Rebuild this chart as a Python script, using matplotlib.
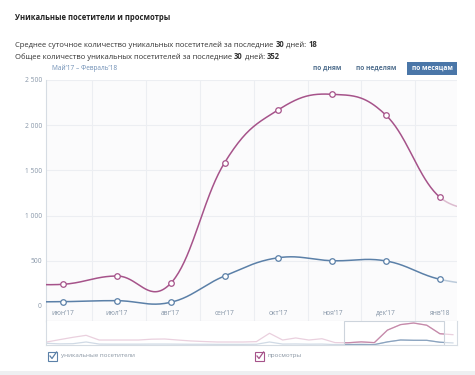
import matplotlib

matplotlib.use("Agg")

import matplotlib.pyplot as plt
import numpy as np
from matplotlib.patches import Rectangle

plt.rcParams["font.family"] = ["Open Sans", "DejaVu Sans"]

W, H = 475, 375

# monthly points, May'17 .. Feb'18 (first and last are clipped by the view)
month_labels = ["июн’17", "июл’17", "авг’17", "сен’17", "окт’17", "ноя’17", "дек’17", "янв’18"]
visitors = [45, 48, 59, 41, 332, 534, 501, 498, 295, 220]
views = [255, 240, 332, 251, 1585, 2171, 2342, 2109, 1202, 1100]

# older months shown only in the navigator (Jul'15 .. Apr'17)
nav_views_old = [320, 575, 820, 1030, 530, 530, 530, 530, 620, 640, 530, 430,
                 370, 320, 320, 320, 360, 1250, 530, 750, 530, 670]
nav_visitors_old = [180, 120, 140, 320, 100, 90, 90, 90, 100, 100, 90, 80,
                    80, 70, 70, 70, 80, 320, 100, 110, 90, 100]

y_ticks = [0, 500, 1000, 1500, 2000, 2500]

BLUE = "#5b80a8"
PURPLE = "#a6538a"
BLUE_FADED = "#bccbdb"
PURPLE_FADED = "#dcbccf"


def px_axes(fig, left, top, right, bottom):
    return fig.add_axes([left / W, 1 - bottom / H, (right - left) / W, (bottom - top) / H])


def spline(xs, ys, steps=40):
    # highcharts-like spline: control points at 0.4 of the neighbour distance
    xs = np.asarray(xs, float)
    ys = np.asarray(ys, float)
    n = len(xs)
    lc = [(xs[i], ys[i]) for i in range(n)]
    rc = [(xs[i], ys[i]) for i in range(n)]
    for i in range(1, n - 1):
        lx = (1.5 * xs[i] + xs[i - 1]) / 2.5
        ly = (1.5 * ys[i] + ys[i - 1]) / 2.5
        rx = (1.5 * xs[i] + xs[i + 1]) / 2.5
        ry = (1.5 * ys[i] + ys[i + 1]) / 2.5
        corr = (ry - ly) * (rx - xs[i]) / (rx - lx) + ys[i] - ry
        lc[i] = (lx, ly + corr)
        rc[i] = (rx, ry + corr)
    segs = []
    t = np.linspace(0, 1, steps)[:, None]
    for i in range(n - 1):
        p = np.array([(xs[i], ys[i]), rc[i], lc[i + 1], (xs[i + 1], ys[i + 1])])
        b = ((1 - t) ** 3) * p[0] + 3 * ((1 - t) ** 2) * t * p[1] + 3 * (1 - t) * t ** 2 * p[2] + t ** 3 * p[3]
        segs.append(b)
    return segs


fig = plt.figure(figsize=(W / 100, H / 100), dpi=100)

# overlay in pixel coordinates for header, buttons, legend
over = fig.add_axes([0, 0, 1, 1])
over.set_xlim(0, W)
over.set_ylim(H, 0)
over.axis("off")

over.text(15, 20, "Уникальные посетители и просмотры", fontsize=5.5,
          fontweight="bold", color="#222222", va="baseline")


def chain(x, y, parts, size=5.5, color="#333333"):
    prev = None
    for text, bold in parts:
        w = "bold" if bold else "normal"
        if prev is None:
            prev = over.text(x, y, text, fontsize=size, fontweight=w, color=color, va="bottom")
        else:
            prev = over.annotate(text, xy=(1, 0), xycoords=prev, fontsize=size,
                                 fontweight=w, color=color, va="bottom", ha="left")


chain(15, 49, [("Среднее суточное количество уникальных посетителей за последние ", False),
               ("30", True), (" дней: ", False), ("18", True)])
chain(15, 61, [("Общее количество уникальных посетителей за последние ", False),
               ("30", True), (" дней: ", False), ("352", True)])

over.text(52, 68, "Май’17 – Февраль’18", fontsize=4.7, color="#6f8fb5", va="center")
over.text(327, 68.5, "по дням", fontsize=4.8, fontweight="bold", color="#52708f",
          ha="center", va="center")
over.text(376, 68.5, "по неделям", fontsize=4.8, fontweight="bold", color="#52708f",
          ha="center", va="center")
over.add_patch(Rectangle((407, 61.5), 50, 13.5, facecolor="#4a76a8", edgecolor="none"))
over.text(432, 68.5, "по месяцам", fontsize=4.8, fontweight="bold", color="white",
          ha="center", va="center")


def checkbox(x, y, color, label):
    over.add_patch(Rectangle((x, y - 4.5), 9, 9, facecolor="white", edgecolor=color, lw=0.8))
    over.plot([x + 2, x + 4, x + 8.5], [y, y + 2.5, y - 4], color=color, lw=0.9)
    over.text(x + 13, y, label, fontsize=4.5, color="#8a96a3", va="center")


checkbox(48, 356, BLUE, "уникальные посетители")
checkbox(255, 356, PURPLE, "просмотры")
over.add_patch(Rectangle((0, 371), W, 4, facecolor="#eef0f2", edgecolor="none"))

x = np.arange(len(views))
xlim = (0.684, 8.316)
grid_x = np.arange(1, 8) + 0.54
face = "#fbfbfc"
grid_c = "#eceef2"

# main chart
ax = px_axes(fig, 46, 80, 457, 306)
ax.set_facecolor(face)
ax.set_xlim(*xlim)
ax.set_ylim(0, 2500)
ax.set_yticks(y_ticks)
ax.set_yticklabels([f"{v:,}".replace(",", " ") for v in y_ticks])
ax.tick_params(axis="y", length=0, pad=3, labelsize=4.8, labelcolor="#8796a8")
ax.set_xticks([])
for v in y_ticks[1:]:
    ax.axhline(v, color=grid_c, lw=0.8, zorder=0)
for gx in grid_x:
    ax.axvline(gx, color=grid_c, lw=0.8, zorder=0)
for s in ["top", "right", "bottom"]:
    ax.spines[s].set_visible(False)
ax.spines["left"].set_color("#d6dce3")
ax.spines["left"].set_linewidth(0.8)

for data, col, faded in [(visitors, BLUE, BLUE_FADED), (views, PURPLE, PURPLE_FADED)]:
    segs = spline(x, data)
    solid = np.vstack(segs[:-1])
    ax.plot(solid[:, 0], solid[:, 1], color=col, lw=1.1, zorder=3)
    ax.plot(segs[-1][:, 0], segs[-1][:, 1], color=faded, lw=1.1, zorder=3)
    ax.plot(x[:-1], data[:-1], "o", ms=4, mfc="white", mec=col, mew=0.9, zorder=4)

# month labels strip
strip = px_axes(fig, 46, 306, 457, 321)
strip.set_facecolor(face)
strip.set_xlim(*xlim)
strip.set_ylim(0, 1)
strip.set_xticks([])
strip.set_yticks([])
for gx in grid_x:
    strip.axvline(gx, color=grid_c, lw=0.8)
for i, lab in enumerate(month_labels, start=1):
    strip.text(i, 0.5, lab, fontsize=4.8, color="#8796a8", ha="center", va="center")
strip.spines["top"].set_visible(False)
strip.spines["right"].set_visible(False)
strip.spines["bottom"].set_color("#dde2e8")
strip.spines["left"].set_color("#d6dce3")
for s in strip.spines.values():
    s.set_linewidth(0.8)

# navigator
nav = px_axes(fig, 46, 321, 457, 345)
nav_x = np.arange(-len(nav_views_old), len(views))
nav_views = nav_views_old + views
nav_visitors = nav_visitors_old + visitors
nav.set_xlim(-22.06, 9.31)
nav.set_ylim(0, 2556)
nav.set_xticks([])
nav.set_yticks([])
nav.set_facecolor("white")
for s in ["left", "right", "bottom"]:
    nav.spines[s].set_color("#d6dce3")
    nav.spines[s].set_linewidth(0.8)
nav.spines["top"].set_visible(False)
nav.plot(nav_x, nav_views, color="#ead0de", lw=0.9)
nav.plot(nav_x, nav_visitors, color="#d0dae5", lw=0.9)
window = Rectangle((xlim[0], 0), xlim[1] - xlim[0], 2556, facecolor="none",
                   edgecolor="#cdd4dc", lw=0.8, zorder=5)
nav.add_patch(window)
for data, col in [(nav_views, "#c58aaa"), (nav_visitors, "#8aa3bf")]:
    ln, = nav.plot(nav_x, data, color=col, lw=0.9)
    ln.set_clip_path(window)

fig.savefig("out.png", dpi=100)
